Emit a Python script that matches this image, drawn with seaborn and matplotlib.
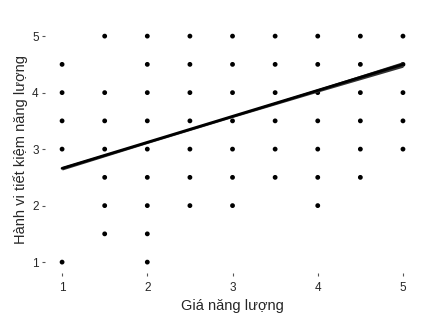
import matplotlib
matplotlib.use("Agg")
import matplotlib.pyplot as plt
import pandas as pd
import seaborn as sns

# observed answer combinations (price score, saving behaviour score)
price = [1.5, 2, 2.5, 3, 3.5, 4, 4.5, 5,
         1, 2, 2.5, 3, 3.5, 4, 4.5, 5,
         1, 1.5, 2, 2.5, 3, 3.5, 4, 4.5, 5,
         1, 1.5, 2, 2.5, 3, 3.5, 4, 4.5, 5,
         1, 1.5, 2, 2.5, 3, 3.5, 4, 4.5, 5,
         1.5, 2, 2.5, 3, 3.5, 4, 4.5,
         1.5, 2, 2.5, 3, 4,
         1.5, 2,
         1, 2]
behaviour = [5] * 8 + [4.5] * 8 + [4] * 9 + [3.5] * 9 + [3] * 9 + [2.5] * 7 + [2] * 5 + [1.5] * 2 + [1] * 2

# fitted line with its confidence band
fit_x = [1, 2, 3, 4, 5]
fit_y = [2.66, 3.12, 3.58, 4.04, 4.5]
fit_lo = [2.63, 3.10, 3.56, 4.01, 4.45]
fit_hi = [2.69, 3.14, 3.60, 4.07, 4.55]

points = pd.DataFrame({"price": price, "behaviour": behaviour})
fit = pd.DataFrame({"x": fit_x, "y": fit_y, "lo": fit_lo, "hi": fit_hi})

sns.set_style("ticks")
plt.rcParams["font.family"] = ["Liberation Sans", "DejaVu Sans"]

fig = plt.figure(figsize=(4.33, 3.31), dpi=100)
ax = fig.add_axes([0.104, 0.174, 0.866, 0.751])

sns.scatterplot(data=points, x="price", y="behaviour", color="black",
                s=12, edgecolor="none", ax=ax)
ax.fill_between(fit["x"], fit["lo"], fit["hi"], color="#333333", linewidth=0)
sns.lineplot(data=fit, x="x", y="y", color="black", linewidth=2.0, ax=ax)

ax.set_xlim(0.8, 5.2)
ax.set_ylim(0.8, 5.2)
ax.set_xticks([1, 2, 3, 4, 5])
ax.set_yticks([1, 2, 3, 4, 5])
ax.tick_params(axis="both", labelsize=8.5, length=2.5, width=0.8, color="#555555", pad=2)
ax.tick_params(axis="x", pad=4)
ax.set_xlabel("Giá năng lượng", fontsize=10.5, labelpad=3)
ax.set_ylabel("Hành vi tiết kiệm năng lượng", fontsize=10.5, labelpad=3)
sns.despine(ax=ax, left=True, bottom=True)

fig.savefig("out.png", dpi=100)
